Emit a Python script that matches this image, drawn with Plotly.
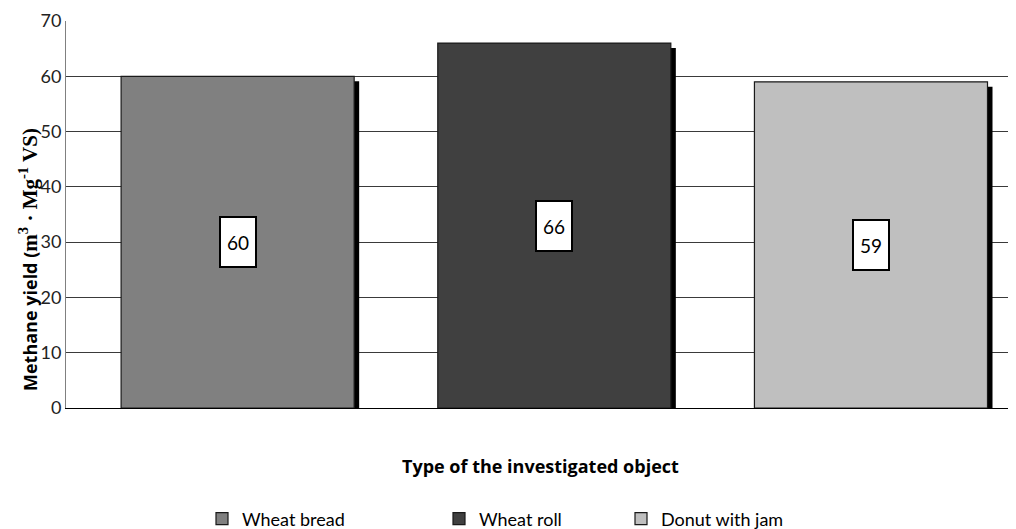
import plotly.graph_objects as go

categories = ["Wheat bread", "Wheat roll", "Donut with jam"]
values = [60, 66, 59]
colors = ["#808080", "#404040", "#bfbfbf"]
y_ticks = [0, 10, 20, 30, 40, 50, 60, 70]
legend_left_px = [194, 431, 613]

FONT = "Lato, 'Noto Sans', sans-serif"
# the page adds an 8px body margin, so the figure is 8px smaller than the window
W, H = 1008, 521
plot_l, plot_t, plot_b = 58, 13, 400
plot_h = plot_b - plot_t
plot_w = W - plot_l
y_max = 70
shadow_px = 5
shadow_dy = shadow_px * y_max / plot_h
cat_px = plot_w / 3
bar_w = 0.736
bar_off = -0.326

fig = go.Figure()
# shadows
for c, v in zip(categories, values):
    fig.add_trace(go.Bar(
        x=[c], y=[v - shadow_dy], width=bar_w, offset=bar_off + shadow_px / cat_px,
        marker=dict(color="#000000", line=dict(width=0)), showlegend=False, hoverinfo="skip"))
# bars
legend_names = ["legend", "legend2", "legend3"]
for c, v, col, lg in zip(categories, values, colors, legend_names):
    fig.add_trace(go.Bar(
        x=[c], y=[v], name=c, width=bar_w, offset=bar_off, legend=lg,
        marker=dict(color=col, line=dict(color="#1a1a1a", width=1.2))))

for c, v in zip(categories, values):
    fig.add_annotation(
        x=c, y=v / 2, text=str(v), showarrow=False, xref="x", yref="y",
        xshift=(bar_off + bar_w / 2) * cat_px,
        width=32, height=46, bgcolor="white", bordercolor="black", borderwidth=2,
        font=dict(family=FONT, size=19, color="black"))

fig.add_annotation(
    x=(532 - plot_l) / plot_w, y=(plot_b - 458) / plot_h, xref="paper", yref="paper",
    showarrow=False, text="<b>Type of the investigated object</b>", yanchor="middle",
    font=dict(family="'Open Sans', sans-serif", size=18, color="black"))
fig.add_annotation(
    x=(20 - plot_l) / plot_w, y=(plot_b - 252) / plot_h, xref="paper", yref="paper",
    showarrow=False, textangle=-90, xanchor="center", yanchor="middle",
    text="<b>Methane yield (<span style=\"font-family:'Liberation Serif',serif;font-size:21px\">m<sup>3</sup> · Mg<sup>-1</sup> VS)</span></b>",
    font=dict(family="'Open Sans', sans-serif", size=18, color="black"))

legend_common = dict(orientation="h", xref="container", yref="container",
                     y=(H - 511) / H, yanchor="middle", xanchor="left",
                     font=dict(family=FONT, size=18, color="black"),
                     bgcolor="rgba(0,0,0,0)")
legends = {}
for lg, px in zip(legend_names, legend_left_px):
    legends[lg] = dict(legend_common, x=px / W)

fig.update_layout(
    width=W, height=H,
    margin=dict(l=plot_l, r=0, t=plot_t, b=H - plot_b, autoexpand=False),
    plot_bgcolor="white", paper_bgcolor="white",
    barmode="overlay",
    font=dict(family=FONT, size=16, color="black"),
    xaxis=dict(showline=True, linecolor="black", linewidth=1, showgrid=False,
               ticks="", showticklabels=False, range=[-0.5, 2.5], automargin=False),
    yaxis=dict(range=[0, y_max], tickvals=y_ticks, showline=True, linecolor="#808080",
               linewidth=1, gridcolor="#3a3a3a", gridwidth=1, ticks="", automargin=False,
               tickfont=dict(family=FONT, size=18, color="#222"), zeroline=False),
    **legends,
)

fig.write_html("out.html")
